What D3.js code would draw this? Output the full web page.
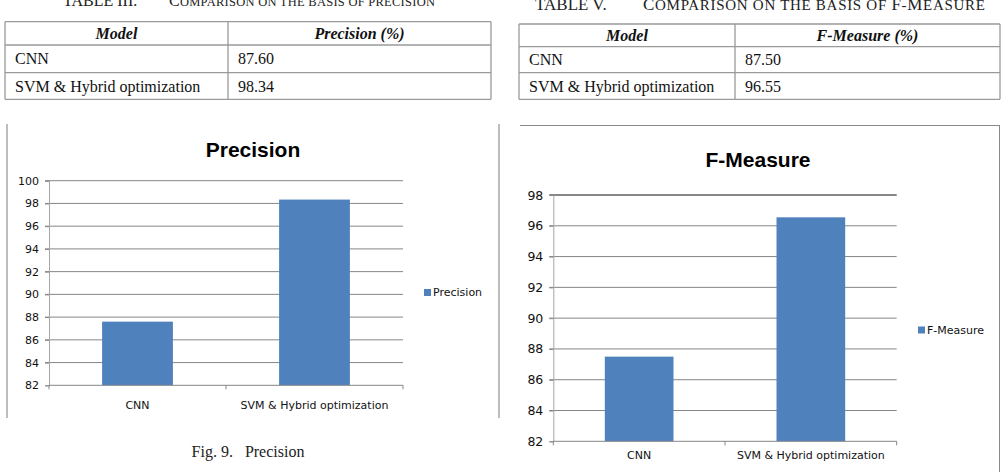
<!DOCTYPE html>
<html>
<head>
<meta charset="utf-8">
<script src="https://cdn.jsdelivr.net/npm/d3@7"></script>
<style>
  body { margin: 0; background: #fff; }
  svg { display: block; }
  text { white-space: pre; }
</style>
</head>
<body>
<div id="fig"></div>
<script>
const categories = ["CNN", "SVM & Hybrid optimization"];
const precisionValues = [87.60, 98.34];
const fMeasureValues = [87.50, 96.55];
const precisionTicks = [82, 84, 86, 88, 90, 92, 94, 96, 98, 100];
const fMeasureTicks = [82, 84, 86, 88, 90, 92, 94, 96, 98];
const precisionTableHead = ["Model", "Precision (%)"];
const fMeasureTableHead = ["Model", "F-Measure (%)"];
const precisionTableRows = [["CNN", "87.60"], ["SVM & Hybrid optimization", "98.34"]];
const fMeasureTableRows = [["CNN", "87.50"], ["SVM & Hybrid optimization", "96.55"]];

const W = 1001, H = 472;
const barColor = "#4f81bd";
const gridColor = "#868686";

const svg = d3.select("#fig").append("svg")
    .attr("width", W)
    .attr("height", H);

// ---- tables ----
// title parts: [text, isBigCap]
function drawTable(cfg) {
    const g = svg.append("g");
    const serif = "'Liberation Serif', 'Times New Roman', serif";

    g.append("text")
        .attr("x", cfg.labelX)
        .attr("y", cfg.titleY)
        .style("font-family", serif)
        .style("font-size", cfg.bigSize + "px")
        .style("fill", "#222")
        .text(cfg.label);
    const t = g.append("text")
        .attr("x", cfg.titleX)
        .attr("y", cfg.titleY)
        .attr("textLength", cfg.titleLen)
        .attr("lengthAdjust", "spacing")
        .style("font-family", serif)
        .style("fill", "#222");
    t.selectAll("tspan")
        .data(cfg.title)
        .enter()
        .append("tspan")
        .style("font-size", d => (d[1] ? cfg.bigSize : cfg.smallSize) + "px")
        .text(d => d[0]);

    const rowY = cfg.rows;
    rowY.forEach(y => {
        g.append("line")
            .attr("x1", cfg.x0).attr("x2", cfg.x1)
            .attr("y1", y).attr("y2", y)
            .attr("stroke", "#9a9a9a").attr("stroke-width", 1.3);
    });
    [cfg.x0, cfg.xDiv, cfg.x1].forEach(x => {
        g.append("line")
            .attr("x1", x).attr("x2", x)
            .attr("y1", rowY[0]).attr("y2", rowY[rowY.length - 1])
            .attr("stroke", "#9a9a9a").attr("stroke-width", 1.3);
    });

    const colCenters = [(cfg.x0 + cfg.xDiv) / 2, (cfg.xDiv + cfg.x1) / 2];
    g.selectAll(".head")
        .data(cfg.head)
        .enter()
        .append("text")
        .attr("x", (d, i) => colCenters[i])
        .attr("y", (rowY[0] + rowY[1]) / 2)
        .attr("dy", "0.35em")
        .attr("text-anchor", "middle")
        .style("font-family", serif)
        .style("font-size", "16px")
        .style("font-weight", "bold")
        .style("font-style", "italic")
        .style("fill", "#111")
        .text(d => d);

    cfg.body.forEach((row, r) => {
        g.selectAll(".cell" + r)
            .data(row)
            .enter()
            .append("text")
            .attr("x", (d, i) => i === 0 ? cfg.x0 + 10 : cfg.xDiv + 10)
            .attr("y", (rowY[r + 1] + rowY[r + 2]) / 2)
            .attr("dy", "0.35em")
            .style("font-family", serif)
            .style("font-size", "16px")
            .style("fill", "#111")
            .text(d => d);
    });
}

drawTable({
    label: "TABLE III.", labelX: 63, titleX: 169, titleY: 5.5,
    bigSize: 16, smallSize: 12.5, titleLen: 266,
    title: [["C", true], ["OMPARISON ON THE BASIS OF PRECISION", false]],
    x0: 5, x1: 491, xDiv: 228, rows: [21.7, 45, 72.7, 99.3],
    head: precisionTableHead, body: precisionTableRows
});
drawTable({
    label: "TABLE V.", labelX: 535, titleX: 643, titleY: 10,
    bigSize: 17, smallSize: 15, titleLen: 342,
    title: [["C", true], ["OMPARISON ON THE BASIS OF ", false], ["F", true], ["-", false],
            ["M", true], ["EASURE", false]],
    x0: 519, x1: 1000, xDiv: 735, rows: [24, 46.7, 72.7, 99.3],
    head: fMeasureTableHead, body: fMeasureTableRows
});

// ---- bar charts ----
function drawChart(cfg) {
    const g = svg.append("g");
    const sans = "'DejaVu Sans', Verdana, sans-serif";

    const x = d3.scaleBand()
        .domain(categories)
        .range([cfg.left, cfg.right])
        .paddingInner(0.6)
        .paddingOuter(0.3);

    const y = d3.scaleLinear()
        .domain(cfg.domain)
        .range([cfg.bottom, cfg.top]);

    g.append("text")
        .attr("x", cfg.titleX)
        .attr("y", cfg.titleY)
        .attr("text-anchor", "middle")
        .style("font-family", "'Liberation Sans', Arial, sans-serif")
        .style("font-size", "21px")
        .style("font-weight", "bold")
        .style("fill", "#000")
        .text(cfg.title);

    // gridlines
    g.selectAll(".grid")
        .data(cfg.ticks.slice(1))
        .enter()
        .append("line")
        .attr("x1", cfg.left - 4)
        .attr("x2", cfg.right)
        .attr("y1", d => y(d))
        .attr("y2", d => y(d))
        .attr("stroke", gridColor)
        .attr("stroke-width", d => cfg.thickTop && d === cfg.domain[1] ? 2 : 1);

    // bars
    g.selectAll(".bar")
        .data(cfg.values)
        .enter()
        .append("rect")
        .attr("x", (d, i) => x(categories[i]))
        .attr("y", d => y(d))
        .attr("width", x.bandwidth())
        .attr("height", d => y(cfg.domain[0]) - y(d))
        .attr("fill", barColor);

    const yAxis = g.append("g")
        .attr("transform", `translate(${cfg.left},0)`)
        .call(d3.axisLeft(y).tickValues(cfg.ticks).tickSize(4).tickPadding(6));
    yAxis.select(".domain").attr("stroke", "#a6a6a6");
    yAxis.selectAll(".tick line").attr("stroke", gridColor);
    yAxis.selectAll("text")
        .style("font-family", sans)
        .style("font-size", cfg.tickFont)
        .style("fill", "#111");

    g.append("line")
        .attr("x1", cfg.left).attr("x2", cfg.right)
        .attr("y1", y(cfg.domain[0])).attr("y2", y(cfg.domain[0]))
        .attr("stroke", gridColor);
    const bounds = [cfg.left, x(categories[1]) - x.step() * x.paddingInner() / 2, cfg.right];
    g.selectAll(".xtick")
        .data(bounds)
        .enter()
        .append("line")
        .attr("x1", d => d).attr("x2", d => d)
        .attr("y1", y(cfg.domain[0])).attr("y2", y(cfg.domain[0]) + 4)
        .attr("stroke", gridColor);
    g.selectAll(".xlabel")
        .data(categories)
        .enter()
        .append("text")
        .attr("x", d => x(d) + x.bandwidth() / 2)
        .attr("y", cfg.labelY)
        .attr("dy", "0.35em")
        .attr("text-anchor", "middle")
        .style("font-family", sans)
        .style("font-size", cfg.catFont)
        .style("fill", "#111")
        .text(d => d);

    // legend
    g.append("rect")
        .attr("x", cfg.legendX)
        .attr("y", cfg.legendY - 3.5)
        .attr("width", 7)
        .attr("height", 7)
        .attr("fill", barColor);
    g.append("text")
        .attr("x", cfg.legendX + 9)
        .attr("y", cfg.legendY)
        .attr("dy", "0.35em")
        .style("font-family", sans)
        .style("font-size", "11px")
        .style("fill", "#111")
        .text(cfg.title);
}

drawChart({
    title: "Precision", titleX: 253, titleY: 157,
    left: 49, right: 403, top: 180.7, bottom: 385.3,
    domain: [82, 100], ticks: precisionTicks, values: precisionValues,
    tickFont: "11px", catFont: "11px", labelY: 405,
    legendX: 424, legendY: 292.5
});
drawChart({
    title: "F-Measure", titleX: 758, titleY: 167.3,
    left: 553.3, right: 896.7, top: 195, bottom: 441.3,
    domain: [82, 98], ticks: fMeasureTicks, values: fMeasureValues,
    tickFont: "12.5px", catFont: "11px", labelY: 455, thickTop: true,
    legendX: 918, legendY: 330
});

// chart frames
svg.append("line").attr("x1", 7).attr("x2", 7).attr("y1", 124).attr("y2", 418)
    .attr("stroke", "#bdbdbd").attr("stroke-width", 2);
svg.append("line").attr("x1", 499).attr("x2", 499).attr("y1", 124).attr("y2", 418)
    .attr("stroke", "#bdbdbd").attr("stroke-width", 2);
svg.append("line").attr("x1", 520).attr("x2", 1000).attr("y1", 125.5).attr("y2", 125.5)
    .attr("stroke", "#8a8a8a").attr("stroke-width", 1);
svg.append("line").attr("x1", 999.5).attr("x2", 999.5).attr("y1", 125.5).attr("y2", 472)
    .attr("stroke", "#8a8a8a").attr("stroke-width", 1);

// caption
svg.append("text")
    .attr("x", 248)
    .attr("y", 451)
    .attr("dy", "0.35em")
    .attr("text-anchor", "middle")
    .style("font-family", "'Liberation Serif', 'Times New Roman', serif")
    .style("font-size", "16px")
    .style("fill", "#222")
    .text("Fig. 9.   Precision");
</script>
</body>
</html>
